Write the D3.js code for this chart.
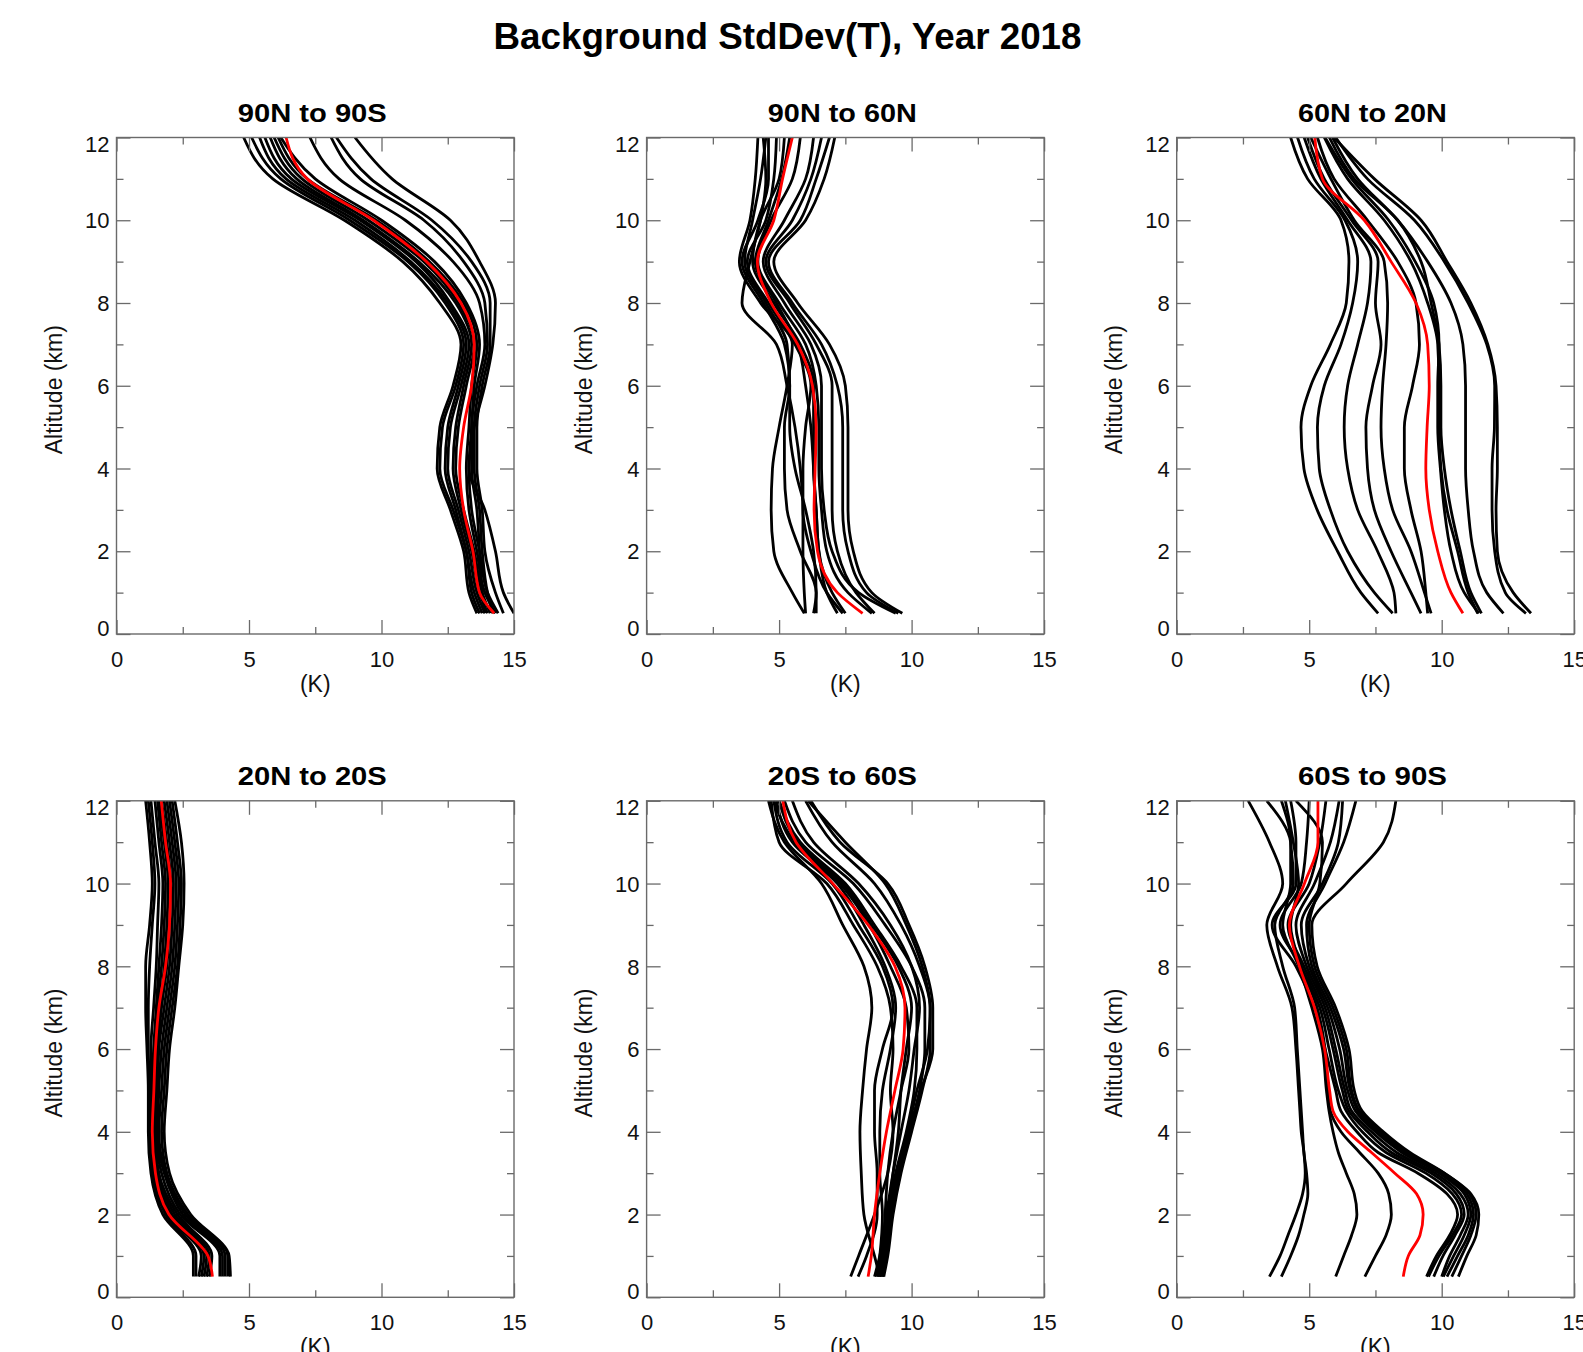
<!DOCTYPE html>
<html><head><meta charset="utf-8">
<script src="https://cdn.jsdelivr.net/npm/d3@7"></script>
<style>body{margin:0;background:#fff;} svg{display:block;}</style>
</head><body><svg id="chart" width="1583" height="1352"></svg>
<script>
// ---------------- DATA ----------------
const mainTitle = "Background StdDev(T), Year 2018";
const regionTitles = ["90N to 90S", "90N to 60N", "60N to 20N", "20N to 20S", "20S to 60S", "60S to 90S"];
const xTickLabels = [0, 5, 10, 15];
const yTickLabels = [0, 2, 4, 6, 8, 10, 12];
const xLabel = "(K)";
const yLabel = "Altitude (km)";

// altitude levels (km) at which each profile is sampled
const altitudes = [0.5, 1, 2, 3, 4, 5, 6, 7, 8, 9, 10, 11, 12];
const altitudesPolar = [0.5, 1, 1.5, 2, 2.5, 3, 3.5, 4, 4.5, 5, 6, 7, 8, 9, 10, 11, 12];

// 90N to 90S : 12 monthly profiles + annual (red)
const global_monthly = [
  [13.6, 13.3, 13.1, 12.6, 12.1, 12.2, 12.7, 13.0, 12.2, 10.8, 8.6, 5.9, 4.8],
  [13.7, 13.4, 13.2, 12.7, 12.2, 12.3, 12.8, 13.1, 12.4, 11.0, 8.8, 6.2, 5.1],
  [13.8, 13.5, 13.2, 12.8, 12.4, 12.5, 12.9, 13.2, 12.5, 11.1, 9.0, 6.4, 5.4],
  [13.9, 13.6, 13.3, 12.9, 12.5, 12.6, 13.0, 13.3, 12.6, 11.3, 9.2, 6.6, 5.6],
  [14.0, 13.7, 13.4, 13.0, 12.7, 12.8, 13.1, 13.4, 12.8, 11.4, 9.3, 6.8, 5.8],
  [14.1, 13.8, 13.5, 13.1, 12.8, 12.9, 13.2, 13.5, 12.9, 11.6, 9.5, 7.0, 5.95],
  [14.3, 13.9, 13.6, 13.3, 13.2, 13.3, 13.4, 13.6, 13.1, 11.8, 9.8, 7.2, 6.1],
  [14.4, 14.0, 13.7, 13.4, 13.3, 13.4, 13.5, 13.7, 13.2, 12.0, 10.0, 7.5, 6.2],
  [13.9, 13.8, 13.7, 13.6, 13.4, 13.4, 13.6, 13.9, 13.7, 12.7, 10.9, 8.4, 7.3],
  [14.2, 14.0, 13.8, 13.7, 13.5, 13.5, 13.7, 14.0, 13.9, 13.1, 11.6, 9.2, 8.1],
  [14.6, 14.3, 13.9, 13.8, 13.6, 13.6, 13.8, 14.1, 14.1, 13.4, 11.9, 9.6, 8.3],
  [15.0, 14.6, 14.3, 13.9, 13.3, 13.5, 13.9, 14.2, 14.3, 13.7, 12.6, 10.4, 9.0]
];
const global_annual = [14.25, 13.7, 13.45, 13.1, 12.95, 13.1, 13.4, 13.5, 13.0, 11.7, 9.7, 7.2, 6.4];

// 90N to 60N
const arctic_monthly = [
  [5.95, 5.5, 4.8, 4.7, 4.75, 5.0, 5.3, 5.5, 4.3, 3.5, 3.9, 4.1, 4.2],
  [6.0, 5.95, 5.9, 5.9, 5.8, 5.6, 5.3, 4.9, 3.6, 3.9, 4.3, 4.5, 4.4],
  [6.4, 6.4, 6.3, 6.0, 5.6, 5.4, 5.4, 5.2, 4.4, 3.6, 4.2, 4.6, 4.6],
  [7.4, 6.8, 6.2, 5.9, 5.9, 6.0, 6.2, 5.6, 4.6, 3.8, 4.5, 4.8, 4.9],
  [7.5, 7.0, 6.5, 6.4, 6.3, 6.3, 6.3, 5.8, 4.8, 4.0, 4.3, 5.0, 5.2],
  [8.5, 7.6, 6.8, 6.6, 6.5, 6.5, 6.4, 6.0, 5.0, 4.2, 4.7, 5.5, 5.8],
  [9.4, 8.0, 7.0, 6.7, 6.6, 6.6, 6.6, 6.2, 5.2, 4.4, 5.2, 6.0, 6.3],
  [9.5, 8.3, 7.6, 7.4, 7.4, 7.4, 7.2, 6.6, 5.5, 4.6, 5.8, 6.4, 6.9],
  [9.65, 8.5, 7.8, 7.6, 7.6, 7.6, 7.5, 6.9, 5.7, 4.8, 6.0, 6.7, 7.1],
  [8.6, 7.9, 7.2, 7.0, 7.0, 7.0, 7.0, 6.4, 5.4, 4.5, 5.5, 6.2, 6.6],
  [6.3, 6.4, 5.8, 5.3, 5.2, 5.2, 5.4, 5.3, 4.5, 3.7, 4.0, 4.3, 4.5],
  [7.2, 6.8, 6.5, 6.4, 6.3, 6.2, 6.0, 5.7, 4.9, 4.1, 4.6, 5.1, 5.4]
];
const arctic_annual = [8.15, 7.2, 6.45, 6.32, 6.36, 6.4, 6.26, 5.7, 4.7, 4.18, 4.8, 5.13, 5.5];

// 60N to 20N
const nmid_monthly = [
  [7.6, 6.95, 6.07, 5.3, 4.8, 4.69, 5.06, 5.8, 6.4, 6.5, 6.2, 4.94, 4.3],
  [8.15, 7.46, 6.45, 5.8, 5.38, 5.31, 5.57, 6.2, 6.64, 6.83, 6.35, 5.19, 4.56],
  [8.27, 8.2, 7.58, 6.83, 6.45, 6.32, 6.45, 6.83, 7.2, 7.33, 6.45, 5.44, 4.81],
  [9.22, 8.84, 8.09, 7.46, 7.2, 7.14, 7.39, 7.71, 7.5, 7.6, 6.6, 5.57, 4.94],
  [9.6, 9.35, 8.84, 8.15, 7.83, 7.71, 7.77, 7.9, 7.96, 7.83, 6.7, 5.82, 5.06],
  [9.47, 9.4, 9.22, 8.84, 8.59, 8.59, 8.9, 9.16, 9.03, 8.34, 7.2, 5.94, 5.31],
  [11.36, 11.0, 10.6, 10.2, 9.97, 9.9, 9.9, 9.85, 9.47, 8.84, 7.83, 6.45, 5.57],
  [11.5, 11.1, 10.7, 10.35, 10.1, 9.97, 9.97, 9.9, 9.6, 9.22, 8.34, 6.7, 5.76],
  [12.33, 11.7, 11.2, 11.0, 10.9, 10.9, 10.9, 10.8, 10.35, 9.47, 8.34, 6.83, 5.88],
  [13.18, 12.4, 12.0, 11.9, 11.9, 11.99, 12.0, 11.7, 11.0, 10.1, 8.97, 7.2, 6.0],
  [13.37, 12.7, 12.1, 12.05, 12.1, 12.1, 12.05, 11.74, 11.1, 10.2, 9.22, 7.46, 5.94],
  [11.4, 10.85, 10.35, 10.1, 9.95, 9.85, 9.85, 9.9, 9.7, 9.0, 8.0, 6.6, 5.6]
];
const nmid_annual = [10.8, 10.35, 9.85, 9.53, 9.4, 9.45, 9.53, 9.47, 9.03, 8.09, 7.08, 5.5, 5.21];

// 20N to 20S
const tropics_monthly = [
  [2.9, 2.9, 1.75, 1.3, 1.2, 1.2, 1.15, 1.1, 1.1, 1.25, 1.35, 1.25, 1.1],
  [3.0, 3.0, 1.85, 1.35, 1.25, 1.25, 1.2, 1.2, 1.25, 1.35, 1.45, 1.35, 1.2],
  [3.1, 3.2, 1.9, 1.4, 1.3, 1.3, 1.3, 1.4, 1.5, 1.55, 1.6, 1.45, 1.3],
  [3.2, 3.3, 2.0, 1.45, 1.3, 1.35, 1.4, 1.5, 1.6, 1.7, 1.75, 1.6, 1.45],
  [3.3, 3.4, 2.1, 1.5, 1.35, 1.4, 1.45, 1.55, 1.7, 1.8, 1.85, 1.7, 1.55],
  [3.4, 3.5, 2.2, 1.55, 1.4, 1.45, 1.5, 1.65, 1.8, 1.9, 1.95, 1.8, 1.6],
  [3.5, 3.6, 2.3, 1.6, 1.45, 1.5, 1.55, 1.7, 1.9, 2.0, 2.05, 1.9, 1.7],
  [3.9, 3.9, 2.4, 1.7, 1.5, 1.55, 1.6, 1.8, 2.0, 2.1, 2.15, 2.0, 1.8],
  [4.0, 4.0, 2.5, 1.8, 1.55, 1.6, 1.7, 1.9, 2.1, 2.2, 2.25, 2.1, 1.9],
  [4.1, 4.1, 2.6, 1.85, 1.6, 1.7, 1.8, 2.0, 2.2, 2.3, 2.35, 2.2, 2.0],
  [4.2, 4.2, 2.7, 1.9, 1.7, 1.8, 1.9, 2.1, 2.3, 2.4, 2.45, 2.3, 2.1],
  [4.3, 4.25, 2.8, 2.0, 1.8, 1.9, 2.0, 2.2, 2.35, 2.5, 2.55, 2.45, 2.2]
];
const tropics_annual = [3.62, 3.45, 1.98, 1.47, 1.35, 1.41, 1.47, 1.6, 1.85, 2.0, 2.04, 1.85, 1.69];

// 20S to 60S
const smid_monthly = [
  [8.8, 8.6, 8.2, 8.1, 8.05, 8.15, 8.3, 8.5, 8.2, 7.4, 6.6, 5.2, 4.6],
  [7.7, 8.0, 8.6, 9.1, 9.3, 9.2, 9.3, 9.2, 8.7, 7.8, 6.8, 5.0, 4.7],
  [7.98, 8.3, 8.7, 8.7, 8.6, 8.6, 8.9, 9.3, 8.9, 8.0, 7.0, 5.3, 4.8],
  [8.7, 8.8, 8.9, 8.8, 8.8, 8.9, 9.2, 9.4, 9.0, 8.2, 7.2, 5.5, 4.9],
  [8.8, 8.9, 9.0, 9.1, 9.3, 9.6, 9.9, 9.8, 9.2, 8.4, 7.3, 5.6, 4.8],
  [8.85, 8.95, 9.1, 9.4, 9.8, 10.1, 10.2, 10.2, 9.6, 8.6, 7.5, 5.8, 5.0],
  [8.9, 9.0, 9.2, 9.5, 9.9, 10.3, 10.5, 10.5, 10.0, 9.0, 7.8, 6.0, 5.2],
  [8.95, 9.1, 9.3, 9.6, 10.0, 10.4, 10.7, 10.7, 10.3, 9.6, 8.6, 7.0, 6.0],
  [8.9, 9.05, 9.25, 9.55, 9.95, 10.35, 10.8, 10.8, 10.5, 9.9, 9.1, 7.3, 6.2],
  [8.8, 8.95, 9.15, 9.45, 9.85, 10.2, 10.6, 10.7, 10.4, 9.8, 9.0, 7.5, 6.1],
  [8.6, 8.8, 9.05, 9.3, 9.6, 9.9, 10.1, 10.3, 10.0, 9.2, 8.0, 6.3, 5.5],
  [8.7, 8.85, 9.1, 9.3, 9.5, 9.6, 9.8, 10.0, 9.5, 8.5, 7.4, 5.7, 5.0]
];
const smid_annual = [8.36, 8.48, 8.6, 8.8, 9.05, 9.37, 9.68, 9.75, 9.37, 8.36, 7.03, 5.64, 5.14];

// 60S to 90S (sampled on altitudesPolar)
const antarctic_monthly = [
  [3.5, 3.9, 4.2, 4.5, 4.75, 4.85, 4.8, 4.7, 4.65, 4.6, 4.5, 4.35, 3.8, 3.4, 4.0, 3.5, 2.7],
  [3.95, 4.3, 4.6, 4.8, 4.95, 4.9, 4.8, 4.75, 4.7, 4.65, 4.55, 4.45, 4.0, 3.7, 4.4, 4.3, 3.4],
  [6.0, 6.3, 6.6, 6.8, 6.7, 6.4, 6.1, 5.9, 5.75, 5.65, 5.5, 5.1, 4.6, 4.0, 4.3, 4.3, 3.95],
  [7.1, 7.5, 7.9, 8.1, 8.0, 7.6, 6.9, 6.2, 5.8, 5.7, 5.6, 5.3, 4.7, 4.3, 4.6, 4.4, 4.1],
  [9.43, 9.8, 10.3, 10.6, 10.2, 9.1, 7.6, 6.8, 6.2, 6.0, 5.6, 5.2, 4.5, 3.6, 4.5, 4.5, 4.3],
  [9.5, 9.9, 10.4, 10.75, 10.4, 9.4, 7.9, 7.0, 6.4, 6.1, 5.75, 5.4, 4.7, 3.9, 4.7, 4.9, 5.0],
  [9.7, 10.05, 10.5, 10.85, 10.55, 9.6, 8.1, 7.2, 6.5, 6.25, 5.9, 5.5, 4.8, 4.2, 5.0, 5.4, 5.63],
  [10.0, 10.3, 10.7, 11.0, 10.7, 9.75, 8.3, 7.35, 6.6, 6.35, 6.0, 5.6, 4.9, 4.5, 5.2, 5.8, 6.13],
  [10.06, 10.45, 10.85, 11.1, 10.85, 9.9, 8.5, 7.5, 6.75, 6.45, 6.15, 5.7, 5.0, 4.7, 5.5, 6.1, 6.26],
  [10.2, 10.6, 11.0, 11.2, 10.95, 10.0, 8.6, 7.6, 6.85, 6.55, 6.3, 5.8, 5.1, 4.9, 5.6, 6.3, 6.76],
  [10.38, 10.75, 11.1, 11.3, 11.05, 10.1, 8.7, 7.7, 6.9, 6.6, 6.4, 5.9, 5.2, 5.0, 5.4, 5.5, 4.5],
  [10.63, 10.95, 11.3, 11.4, 11.1, 10.1, 8.8, 7.8, 7.0, 6.7, 6.5, 6.0, 5.3, 5.1, 6.4, 7.8, 8.27]
];
const antarctic_annual = [8.55, 8.74, 9.18, 9.3, 9.05, 8.23, 7.35, 6.46, 5.9, 5.77, 5.58, 5.2, 4.63, 4.25, 4.82, 5.33, 5.33];

// ---------------- LAYOUT ----------------
const panels = [
  {title: regionTitles[0], alt: altitudes, monthly: global_monthly, annual: global_annual},
  {title: regionTitles[1], alt: altitudes, monthly: arctic_monthly, annual: arctic_annual},
  {title: regionTitles[2], alt: altitudes, monthly: nmid_monthly, annual: nmid_annual},
  {title: regionTitles[3], alt: altitudes, monthly: tropics_monthly, annual: tropics_annual},
  {title: regionTitles[4], alt: altitudes, monthly: smid_monthly, annual: smid_annual},
  {title: regionTitles[5], alt: altitudesPolar, monthly: antarctic_monthly, annual: antarctic_annual}
];

const FONT = "'Liberation Sans', Arial, Helvetica, sans-serif";
const lefts = [116.5, 646.6, 1176.7];
const tops = [137.5, 800.8];
const pw = 397.5, ph = 496.5;
const AX = "#6a6a6a";
const LW = 2.8;

const svg = d3.select("#chart");
svg.append("rect").attr("width", 1583).attr("height", 1352).attr("fill", "#fff");

svg.append("text")
  .attr("x", 787.5).attr("y", 49)
  .attr("text-anchor", "middle")
  .attr("font-family", FONT).attr("font-weight", "bold").attr("font-size", 37)
  .attr("textLength", 588).attr("lengthAdjust", "spacingAndGlyphs")
  .attr("fill", "#000")
  .text(mainTitle);

const xMinor = [2.5, 7.5, 12.5];
const yMinor = [1, 3, 5, 7, 9, 11];

panels.forEach((p, i) => {
  const col = i % 3, row = Math.floor(i / 3);
  const x0 = lefts[col], y0 = tops[row];
  const x = d3.scaleLinear().domain([0, 15]).range([x0, x0 + pw]);
  const y = d3.scaleLinear().domain([0, 12]).range([y0 + ph, y0]);
  const g = svg.append("g");

  const clipId = "clip" + i;
  svg.append("clipPath").attr("id", clipId).append("rect")
    .attr("x", x0).attr("y", y0).attr("width", pw).attr("height", ph);

  const line = d3.line().x(d => x(d[0])).y(d => y(d[1])).curve(d3.curveMonotoneY);
  const lg = g.append("g").attr("clip-path", `url(#${clipId})`);
  p.monthly.forEach(m => {
    lg.append("path")
      .attr("d", line(m.map((v, k) => [v, p.alt[k]])))
      .attr("fill", "none").attr("stroke", "#000").attr("stroke-width", LW)
      .attr("stroke-linejoin", "round");
  });
  lg.append("path")
    .attr("d", line(p.annual.map((v, k) => [v, p.alt[k]])))
    .attr("fill", "none").attr("stroke", "#ff0000").attr("stroke-width", LW);

  // axes (ticks inward on all sides)
  const styleAxis = sel => {
    sel.select(".domain").remove();
    sel.selectAll(".tick line").attr("stroke", AX).attr("stroke-width", 1.3);
    sel.selectAll(".tick text").attr("font-family", FONT).attr("font-size", 22).attr("fill", "#111");
  };
  const bottom = g.append("g").attr("transform", `translate(0,${y0 + ph})`)
    .call(d3.axisBottom(x).tickValues(xTickLabels).tickSize(-14).tickPadding(17).tickFormat(d3.format("d")));
  styleAxis(bottom);
  g.append("g").attr("transform", `translate(0,${y0 + ph})`)
    .call(d3.axisBottom(x).tickValues(xMinor).tickSize(-7).tickFormat("")).call(styleAxis);
  g.append("g").attr("transform", `translate(0,${y0})`)
    .call(d3.axisTop(x).tickValues(xTickLabels).tickSize(-14).tickFormat("")).call(styleAxis);
  g.append("g").attr("transform", `translate(0,${y0})`)
    .call(d3.axisTop(x).tickValues(xMinor).tickSize(-7).tickFormat("")).call(styleAxis);

  const left = g.append("g").attr("transform", `translate(${x0},0)`)
    .call(d3.axisLeft(y).tickValues(yTickLabels).tickSize(-14).tickPadding(7).tickFormat(d3.format("d")));
  styleAxis(left);
  left.selectAll(".tick text").attr("dy", d => d === 12 ? "0.62em" : d === 0 ? "0.05em" : "0.35em");
  g.append("g").attr("transform", `translate(${x0},0)`)
    .call(d3.axisLeft(y).tickValues(yMinor).tickSize(-7).tickFormat("")).call(styleAxis);
  g.append("g").attr("transform", `translate(${x0 + pw},0)`)
    .call(d3.axisRight(y).tickValues(yTickLabels).tickSize(-14).tickFormat("")).call(styleAxis);
  g.append("g").attr("transform", `translate(${x0 + pw},0)`)
    .call(d3.axisRight(y).tickValues(yMinor).tickSize(-7).tickFormat("")).call(styleAxis);

  // frame
  g.append("rect").attr("x", x0).attr("y", y0).attr("width", pw).attr("height", ph)
    .attr("fill", "none").attr("stroke", AX).attr("stroke-width", 1.4);

  // panel title
  g.append("text")
    .attr("x", x0 + pw / 2 - 3).attr("y", y0 - 15.5)
    .attr("text-anchor", "middle")
    .attr("font-family", FONT).attr("font-weight", "bold").attr("font-size", 26)
    .attr("textLength", 149).attr("lengthAdjust", "spacingAndGlyphs")
    .attr("fill", "#000").text(p.title);

  // axis titles
  g.append("text")
    .attr("x", x0 + pw / 2).attr("y", y0 + ph + 58)
    .attr("text-anchor", "middle")
    .attr("font-family", FONT).attr("font-size", 23).attr("fill", "#111")
    .text(xLabel);
  g.append("text")
    .attr("transform", `translate(${x0 - 55},${y0 + ph / 2 + 4}) rotate(-90)`)
    .attr("text-anchor", "middle")
    .attr("font-family", FONT).attr("font-size", 23).attr("fill", "#111")
    .text(yLabel);
});
</script>
</body></html>
